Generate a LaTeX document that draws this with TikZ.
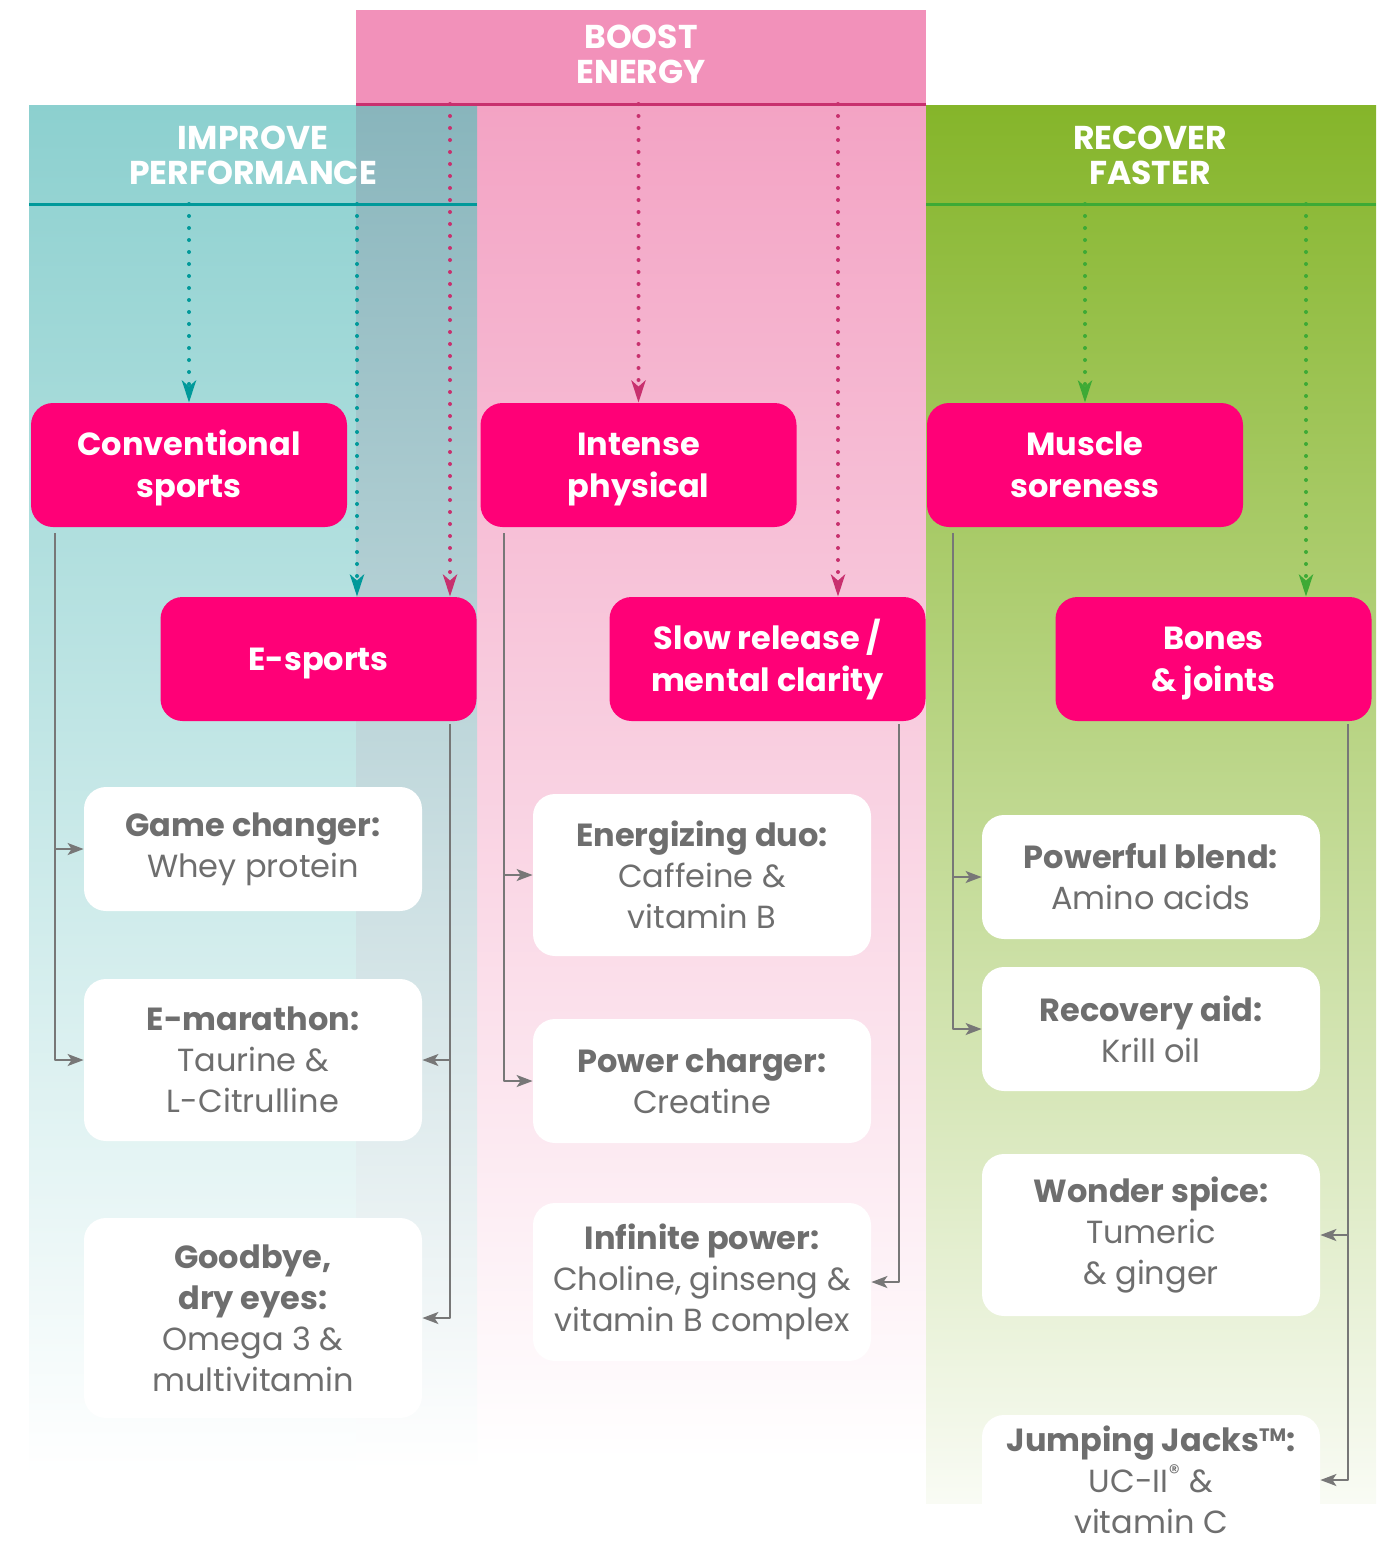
\documentclass[tikz,border=0pt]{standalone}
\usepackage{fontspec}
\setmainfont{Poppins}
\usetikzlibrary{arrows.meta,positioning}
\definecolor{magbox}{HTML}{FF0077}
\definecolor{itemgray}{HTML}{6E6E6E}
\definecolor{linkgray}{HTML}{777777}
\definecolor{tealtop}{HTML}{8CD0CF}
\definecolor{tealdark}{HTML}{00999A}
\definecolor{pinkhead}{HTML}{F291BA}
\definecolor{pinktop}{HTML}{F3A3C4}
\definecolor{pinkdark}{HTML}{C8306E}
\definecolor{greentop}{HTML}{85B52A}
\definecolor{greendark}{HTML}{3DAA35}
\definecolor{mixtop}{HTML}{88B5BC}
\newcommand\topstrut{\rule{0pt}{16pt}}
\newcommand\botstrut{\rule[-5pt]{0pt}{5pt}}
\tikzset{
  mainbox/.style={rounded corners=11pt, fill=magbox, text=white, align=center,
    minimum width=158pt, minimum height=62pt,
    font=\fontsize{16}{21}\selectfont\bfseries},
  itembox/.style={rounded corners=11pt, fill=white, text=itemgray, align=center,
    minimum width=169pt, font=\fontsize{16}{20.5}\selectfont},
  headtext/.style={text=white, align=center, font=\fontsize{16.5}{17.5}\selectfont\bfseries},
  dots/.style={line width=2pt, line cap=round, dash pattern=on 0pt off 6pt,
    -{Stealth[length=11pt,width=7pt,inset=3pt]}},
  tealdots/.style={dots, tealdark},
  pinkdots/.style={dots, pinkdark},
  greendots/.style={dots, greendark},
  link/.style={linkgray, line width=1pt, -{Stealth[length=8pt,width=6pt,inset=2pt]}}
}
\begin{document}
\begin{tikzpicture}[x=0.5pt, y=-0.5pt, line join=round, >=Stealth]
\useasboundingbox (0,0) rectangle (1388,1544);
% panels
\shade[top color=tealtop, bottom color=white] (29,105) rectangle (477,1475);
\shade[top color=pinktop, bottom color=white] (477,104) rectangle (926,1460);
\shade[top color=mixtop, bottom color=white] (356,104) rectangle (477,1470);
\fill[pinkhead] (356,10) rectangle (926,104);
\shade[top color=greentop, bottom color=white!95!greentop] (926,105) rectangle (1376,1503);
\coordinate (pinkline) at (0,104);
\coordinate (tealline) at (0,204);
\coordinate (greenline) at (0,204);
\draw[pinkdark, line width=1.5pt] (356,104) -- (926,104);
\draw[tealdark, line width=1.5pt] (29,204) -- (477,204);
\draw[greendark, line width=1.5pt] (926,204) -- (1376,204);
% headers
\node[headtext] (boost) at (641,54) {BOOST\\ENERGY};
\node[headtext] (improve) at (253,155) {IMPROVE\\PERFORMANCE};
\node[headtext] (recover) at (1150,155) {RECOVER\\FASTER};
% goals
\node[mainbox] (conv) at (189,465) {\topstrut Conventional\\sports\botstrut};
\node[mainbox] (esp) at (318.5,659) {\topstrut E-sports\botstrut};
\node[mainbox] (intense) at (638.5,465) {\topstrut Intense\\physical\botstrut};
\node[mainbox] (slow) at (767.5,659) {\topstrut Slow release /\\mental clarity\botstrut};
\node[mainbox] (muscle) at (1085,465) {\topstrut Muscle\\soreness\botstrut};
\node[mainbox] (bones) at (1213.5,659) {\topstrut Bones\\\& joints\botstrut};
% products
\node[itembox, minimum height=62pt] (game) at (253,849) {\textbf{Game changer:}\\Whey protein};
\node[itembox, minimum height=81pt] (emar) at (253,1060) {\textbf{E-marathon:}\\Taurine \&\\L-Citrulline};
\node[itembox, minimum height=100pt] (dry) at (253,1318) {\textbf{Goodbye,}\\\textbf{dry eyes:}\\Omega 3 \&\\multivitamin};
\node[itembox, minimum height=81pt] (energ) at (702,875) {\textbf{Energizing duo:}\\Caffeine \&\\vitamin B};
\node[itembox, minimum height=62pt] (power) at (702,1081) {\textbf{Power charger:}\\Creatine};
\node[itembox, minimum height=79pt] (infin) at (702,1282) {\textbf{Infinite power:}\\Choline, ginseng \&\\vitamin B complex};
\node[itembox, minimum height=62pt] (blend) at (1151,877) {\textbf{Powerful blend:}\\Amino acids};
\node[itembox, minimum height=62pt] (recov) at (1151,1029) {\textbf{Recovery aid:}\\Krill oil};
\node[itembox, minimum height=81pt] (spice) at (1151,1235) {\textbf{Wonder spice:}\\Tumeric\\\& ginger};
\node[itembox, minimum height=65pt] (jump) at (1151,1480) {\textbf{Jumping Jacks{\fontsize{9}{9}\selectfont\raisebox{5pt}{TM}}:}\\UC-II\textsuperscript{®} \&\\vitamin C};
% dotted arrows from the headers
\coordinate (t2) at (357,204);
\coordinate (p1) at (450,104);
\coordinate (p3) at (838,104);
\coordinate (g2) at (1306,204);
\draw[tealdots] (conv.north |- tealline) -- (conv.north);
\draw[tealdots] (t2) -- (t2 |- esp.north);
\draw[pinkdots] (p1) -- (p1 |- esp.north);
\draw[pinkdots] (intense.north |- pinkline) -- (intense.north);
\draw[pinkdots] (p3) -- (p3 |- slow.north);
\draw[greendots] (muscle.north |- greenline) -- (muscle.north);
\draw[greendots] (g2) -- (g2 |- bones.north);
% gray links
\draw[link] (conv.south west) ++(24,6) |- (game.west);
\draw[link] (conv.south west) ++(24,6) |- (emar.west);
\draw[link] (esp.south east) ++(-27,3) |- (emar.east);
\draw[link] (esp.south east) ++(-27,3) |- (dry.east);
\draw[link] (intense.south west) ++(24,6) |- (energ.west);
\draw[link] (intense.south west) ++(24,6) |- (power.west);
\draw[link] (slow.south east) ++(-27,3) |- (infin.east);
\draw[link] (muscle.south west) ++(26,6) |- (blend.west);
\draw[link] (muscle.south west) ++(26,6) |- (recov.west);
\draw[link] (bones.south east) ++(-24,3) |- (spice.east);
\draw[link] (bones.south east) ++(-24,3) |- (jump.east);
\end{tikzpicture}
\end{document}
